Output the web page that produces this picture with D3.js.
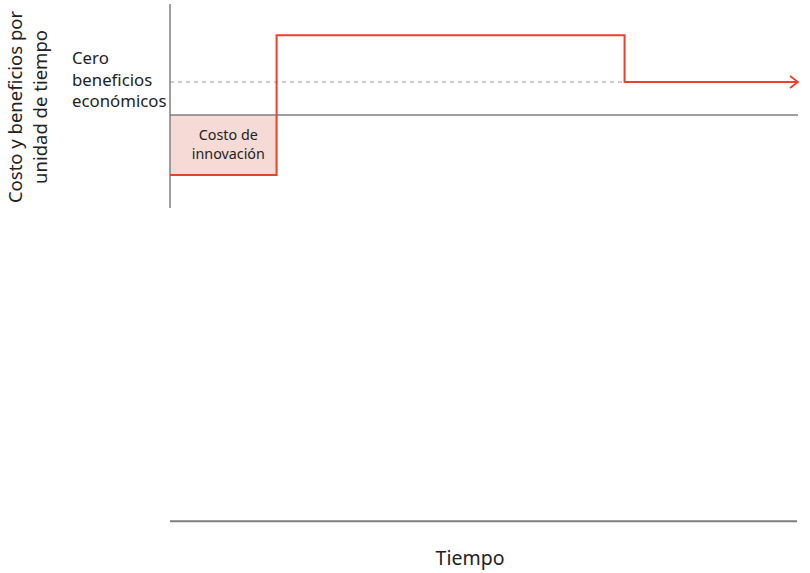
<!DOCTYPE html>
<html><head><meta charset="utf-8">
<script src="https://cdn.jsdelivr.net/npm/d3@7"></script>
<style>
html,body{margin:0;padding:0;background:#fff;}
svg text{font-family:"Noto Sans","Open Sans",sans-serif;}
</style></head>
<body>
<svg id="c" width="810" height="573"></svg>
<script>
// Data
const stepTimes  = [0, 17, 17, 72.5, 72.5, 100];      // time points of the profit path
const stepValues = [-1, -1, 1.33, 1.33, 0.55, 0.55];  // cost/benefit per unit time
const zeroProfitLevel = 0.55;
const costBox = {t0: 0, t1: 17, v0: 0, v1: -1};
const yLabelLines = ["Costo y beneficios por", "unidad de tiempo"];
const zeroLabelLines = ["Cero", "beneficios", "económicos"];
const boxLabelLines = ["Costo de", "innovación"];
const xLabel = "Tiempo";

const svg = d3.select("#c");
const x = d3.scaleLinear().domain([0, 100]).range([170, 797]);
const y = d3.scaleLinear().domain([2, -7]).range([-5, 535]);
const red = "#e8412c", grey = "#7f7f7f";

// cost box
svg.append("rect")
  .attr("x", x(costBox.t0)).attr("y", y(costBox.v0))
  .attr("width", x(costBox.t1) - x(costBox.t0))
  .attr("height", y(costBox.v1) - y(costBox.v0))
  .attr("fill", "#f5dad5");

// zero line
svg.append("line").attr("x1", x(0)).attr("x2", x(100) + 1)
  .attr("y1", y(0)).attr("y2", y(0)).attr("stroke", grey).attr("stroke-width", 1.5);

// dashed zero-profit line
svg.append("line").attr("x1", x(0)).attr("x2", x(72.5))
  .attr("y1", y(zeroProfitLevel)).attr("y2", y(zeroProfitLevel))
  .attr("stroke", "#9a9a9a").attr("stroke-width", 1).attr("stroke-dasharray", "4,4");

// vertical axis
svg.append("line").attr("x1", x(0)).attr("x2", x(0))
  .attr("y1", y(1.85)).attr("y2", y(-1.55)).attr("stroke", grey).attr("stroke-width", 1.5);

// bottom axis
svg.append("line").attr("x1", x(0)).attr("x2", x(100))
  .attr("y1", y(-6.77)).attr("y2", y(-6.77)).attr("stroke", grey).attr("stroke-width", 2);

// step path
const pts = stepTimes.map((t, i) => [x(t), y(stepValues[i])]);
svg.append("path").attr("d", d3.line()(pts))
  .attr("fill", "none").attr("stroke", red).attr("stroke-width", 2);
// arrow head
const ax = x(100) + 1, ay = y(zeroProfitLevel);
svg.append("path").attr("d", `M${ax-8},${ay-6} L${ax},${ay} L${ax-8},${ay+6}`)
  .attr("fill", "none").attr("stroke", red).attr("stroke-width", 1.8);

// y label
const yl = svg.append("text").attr("transform", "translate(0,107) rotate(-90)")
  .attr("text-anchor", "middle").attr("font-size", 18.5).attr("fill", "#222");
yLabelLines.forEach((s, i) => yl.append("tspan").attr("x", 0).attr("y", 22 + i * 25).text(s));

// zero-profit label
const zl = svg.append("text").attr("font-size", 16.8).attr("fill", "#222");
zeroLabelLines.forEach((s, i) => zl.append("tspan").attr("x", 72).attr("y", 64 + i * 21.5).text(s));

// box label
const bl = svg.append("text").attr("text-anchor", "middle").attr("font-size", 14.3).attr("fill", "#222");
boxLabelLines.forEach((s, i) => bl.append("tspan").attr("x", (x(costBox.t0) + x(costBox.t1)) / 2 + 5)
  .attr("y", 140 + i * 19).text(s));

// x label
svg.append("text").attr("x", 470).attr("y", 565).attr("text-anchor", "middle")
  .attr("font-size", 19.5).attr("fill", "#222").text(xLabel);
</script>
</body></html>
